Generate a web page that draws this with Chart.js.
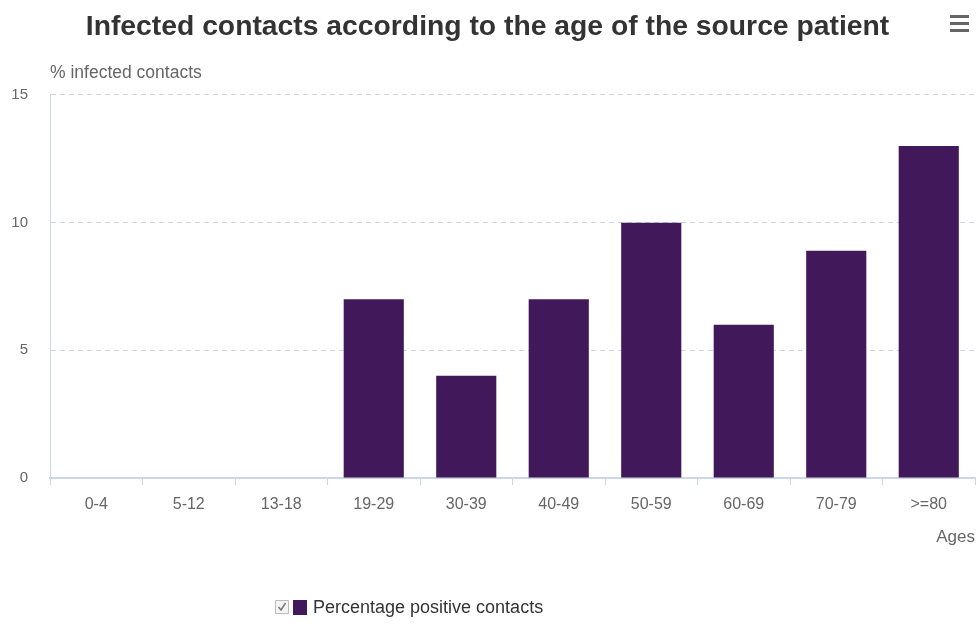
<!DOCTYPE html>
<html>
<head>
<meta charset="utf-8">
<script src="https://cdn.jsdelivr.net/npm/chart.js@4"></script>
<style>
html,body{margin:0;padding:0;background:#fff;}
#wrap{width:979px;height:626px;position:relative;}
</style>
</head>
<body>
<div id="wrap"><canvas id="c" width="979" height="626"></canvas></div>
<script>
const categories = ['0-4','5-12','13-18','19-29','30-39','40-49','50-59','60-69','70-79','>=80'];
const positiveContacts = [0,0,0,7,4,7,10,6,8.9,13];
const yTicks = [0,5,10,15];
const chartTitle = 'Infected contacts according to the age of the source patient';
const yAxisTitle = '% infected contacts';
const xAxisTitle = 'Ages';
const seriesName = 'Percentage positive contacts';

const FONT = '"Liberation Sans", Arial, sans-serif';
const BAR = '#41185a';
const AXIS = '#ccd6eb';

const extras = {
  id: 'extras',
  afterDraw(chart) {
    const ctx = chart.ctx;
    const area = chart.chartArea;
    ctx.save();
    // y axis title (horizontal, above the plot)
    ctx.fillStyle = '#666';
    ctx.font = '17.5px ' + FONT;
    ctx.textAlign = 'left';
    ctx.textBaseline = 'middle';
    ctx.fillText(yAxisTitle, area.left, 73);
    // hamburger menu
    ctx.fillStyle = '#666';
    [15, 22, 29].forEach(y => ctx.fillRect(950, y, 19, 3));
    // legend
    const ly = 608;
    ctx.strokeStyle = '#bbb';
    ctx.lineWidth = 1;
    ctx.fillStyle = '#f4f4f4';
    ctx.beginPath();
    ctx.rect(275.5, ly - 7.5, 13, 13);
    ctx.fill(); ctx.stroke();
    ctx.strokeStyle = '#777';
    ctx.lineWidth = 1.5;
    ctx.beginPath();
    ctx.moveTo(278.5, ly - 1);
    ctx.lineTo(281, ly + 2);
    ctx.lineTo(285.5, ly - 5);
    ctx.stroke();
    ctx.fillStyle = BAR;
    ctx.fillRect(293, ly - 8, 14, 15);
    ctx.fillStyle = '#333';
    ctx.font = '18px ' + FONT;
    ctx.textAlign = 'left';
    ctx.fillText(seriesName, 313, ly);
    ctx.restore();
  }
};

new Chart(document.getElementById('c'), {
  type: 'bar',
  data: {
    labels: categories,
    datasets: [{
      label: seriesName,
      data: positiveContacts,
      backgroundColor: BAR,
      borderWidth: 0,
      categoryPercentage: 1,
      barPercentage: 0.65
    }]
  },
  options: {
    responsive: false,
    animation: false,
    layout: { padding: { top: 0, left: 0, right: 4, bottom: 78 } },
    plugins: {
      legend: { display: false },
      tooltip: { enabled: false },
      title: {
        display: true,
        text: chartTitle,
        color: '#333',
        font: { family: FONT, size: 28.3, weight: 'bold', lineHeight: 1.2 },
        padding: { top: 10, bottom: 51 }
      }
    },
    scales: {
      x: {
        offset: true,
        grid: { offset: true, drawOnChartArea: false, drawTicks: true, tickLength: 7, color: AXIS, lineWidth: 1 },
        border: { display: true, color: AXIS, width: 2 },
        ticks: { color: '#666', font: { family: FONT, size: 16 }, padding: 10, maxRotation: 0, autoSkip: false },
        title: { display: true, text: xAxisTitle, align: 'end', color: '#666', font: { family: FONT, size: 17 }, padding: { top: 4, bottom: 0 } },
        afterFit(s) { s.height = 70; }
      },
      y: {
        min: 0, max: 15,
        afterBuildTicks(s) { s.ticks = yTicks.map(v => ({ value: v })); },
        grid: { drawTicks: false, color: AXIS, lineWidth: 1 },
        border: { display: true, color: AXIS, width: 1, dash: [5, 4] },
        ticks: { color: '#666', font: { family: FONT, size: 15 }, padding: 22 },
        afterFit(s) { s.width = 50; }
      }
    }
  },
  plugins: [extras]
});
</script>
</body>
</html>
